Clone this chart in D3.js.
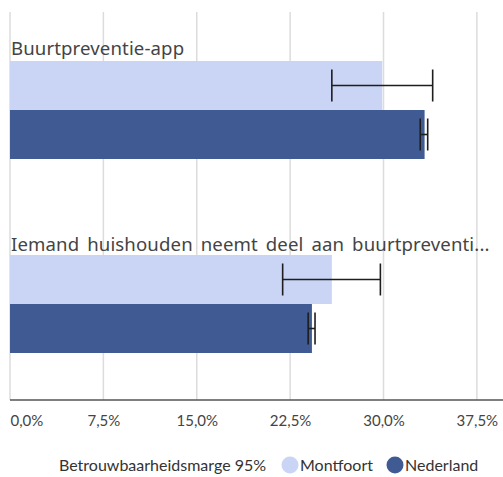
<!DOCTYPE html>
<html>
<head>
<meta charset="utf-8">
<script src="https://cdn.jsdelivr.net/npm/d3@7"></script>
<style>
  html, body { margin: 0; padding: 0; background: #fff; }
  svg { display: block; font-family: Lato, "Noto Sans", sans-serif; }
</style>
</head>
<body>
<svg id="chart" width="503" height="477"></svg>
<script>
// Categories and series
const categories = [
  "Buurtpreventie-app",
  "Iemand huishouden neemt deel aan buurtpreventie-app"
];
const seriesNames = ["Montfoort", "Nederland"];
// Percentages per category, in series order
const montfoort = [29.9, 25.85];
const nederland = [33.3, 24.25];
// 95% confidence bounds
const montfoortLow = [25.85, 21.9];
const montfoortHigh = [33.95, 29.75];
const nederlandLow = [32.95, 23.95];
const nederlandHigh = [33.55, 24.5];
const tickValues = [0, 7.5, 15, 22.5, 30, 37.5];
const legendTitle = "Betrouwbaarheidsmarge 95%";

const colors = { Montfoort: "#cad4f4", Nederland: "#405a93" };
const maxLabelChars = 46;

const rows = [];
categories.forEach((c, i) => {
  rows.push({ cat: c, series: "Montfoort", value: montfoort[i], lo: montfoortLow[i], hi: montfoortHigh[i] });
  rows.push({ cat: c, series: "Nederland", value: nederland[i], lo: nederlandLow[i], hi: nederlandHigh[i] });
});

const svg = d3.select("#chart");
const plotTop = 12, plotBottom = 400;

const x = d3.scaleLinear().domain([0, 40]).range([10, 508]);
const yGroup = d3.scaleBand().domain(categories).range([plotTop, plotBottom]);
const ySeries = d3.scaleBand().domain(seriesNames).range([49, 147]);

// Vertical gridlines
svg.append("g")
  .selectAll("line")
  .data(tickValues)
  .join("line")
  .attr("x1", d => x(d)).attr("x2", d => x(d))
  .attr("y1", plotTop).attr("y2", plotBottom)
  .attr("stroke", "#dcdcdc").attr("stroke-width", 1.5);

// Category labels, long ones shortened with an ellipsis
const shorten = s => s.length > maxLabelChars ? s.slice(0, maxLabelChars) + "..." : s;
svg.append("g")
  .selectAll("text")
  .data(categories)
  .join("text")
  .attr("x", 11)
  .attr("y", (d, i) => yGroup(d) + 43 + i * 2)
  .attr("font-family", "'Noto Sans', sans-serif")
  .attr("font-size", 18.6)
  .attr("letter-spacing", 0.12)
  .attr("word-spacing", 3)
  .attr("fill", "#444")
  .text(d => shorten(d));

// Bars
svg.append("g")
  .selectAll("rect")
  .data(rows)
  .join("rect")
  .attr("x", x(0))
  .attr("y", d => yGroup(d.cat) + ySeries(d.series))
  .attr("width", d => x(d.value) - x(0))
  .attr("height", ySeries.bandwidth())
  .attr("fill", d => colors[d.series]);

// Error bars
const eb = svg.append("g")
  .attr("stroke", "#1e1e1e")
  .attr("stroke-width", 1.6)
  .selectAll("g")
  .data(rows)
  .join("g")
  .attr("transform", d => `translate(0,${yGroup(d.cat) + ySeries(d.series) + ySeries.bandwidth() / 2})`);
eb.append("line")
  .attr("x1", d => x(d.lo)).attr("x2", d => x(d.hi))
  .attr("y1", 0).attr("y2", 0);
eb.append("line")
  .attr("x1", d => x(d.lo)).attr("x2", d => x(d.lo))
  .attr("y1", -16).attr("y2", 16);
eb.append("line")
  .attr("x1", d => x(d.hi)).attr("x2", d => x(d.hi))
  .attr("y1", -16).attr("y2", 16);

// Bottom axis
const fmt = v => d3.format(".1f")(v).replace(".", ",") + "%";
const axis = svg.append("g")
  .attr("transform", `translate(0,${plotBottom})`)
  .call(d3.axisBottom(x).tickValues(tickValues).tickFormat(fmt).tickSize(0).tickPadding(15));
axis.select(".domain").attr("stroke", "#555").attr("stroke-width", 1.5)
  .attr("d", `M${x(0)},0H503`);
axis.selectAll("text")
  .attr("font-family", "Lato, 'Noto Sans', sans-serif")
  .attr("font-size", 15)
  .attr("fill", "#444");
axis.selectAll(".tick").filter(d => d === 0).select("text")
  .attr("text-anchor", "start").attr("x", 0);

// Legend
const legend = svg.append("g").attr("font-size", 16).attr("fill", "#333");
legend.append("text").attr("x", 59).attr("y", 471).text(legendTitle);
const legendItems = [
  { name: "Montfoort", cx: 290 },
  { name: "Nederland", cx: 395 }
];
legendItems.forEach(it => {
  legend.append("circle").attr("cx", it.cx).attr("cy", 465).attr("r", 8.5).attr("fill", colors[it.name]);
  legend.append("text").attr("x", it.cx + 10).attr("y", 471).text(it.name);
});
</script>
</body>
</html>
